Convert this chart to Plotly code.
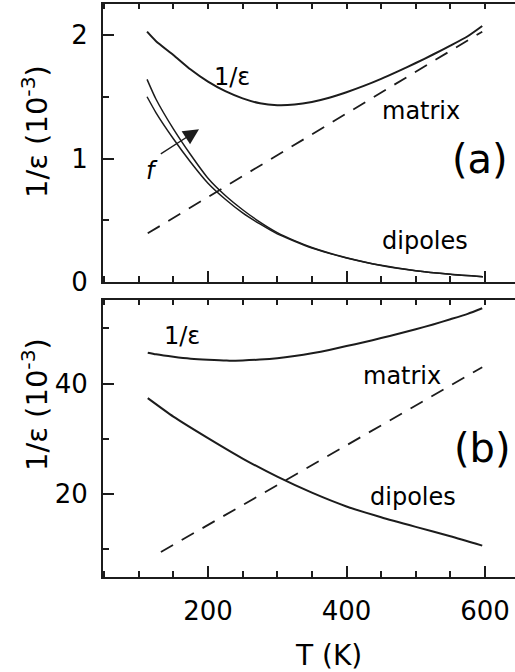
import plotly.graph_objects as go

# ---------------- data ----------------
# panel (a)
T_eps_a = [112, 125, 150, 175, 200, 225, 250, 275, 300, 325, 350, 375, 400, 425, 450, 475, 500, 525, 550, 575, 596]
inv_eps_a = [2.027, 1.95, 1.838, 1.72, 1.622, 1.545, 1.487, 1.447, 1.432, 1.437, 1.458, 1.492, 1.537, 1.588, 1.645, 1.708, 1.773, 1.842, 1.914, 1.99, 2.073]
T_matrix_a = [113, 596]
matrix_a = [0.394, 2.027]
T_dip_a = [112, 125, 150, 175, 200, 225, 250, 275, 300, 325, 350, 375, 400, 450, 500, 550, 597]
dip_a_high = [1.641, 1.48, 1.24, 1.03, 0.84, 0.70, 0.585, 0.485, 0.40, 0.335, 0.28, 0.235, 0.197, 0.135, 0.092, 0.063, 0.043]
dip_a_low = [1.50, 1.37, 1.16, 0.97, 0.80, 0.67, 0.56, 0.47, 0.39, 0.33, 0.275, 0.232, 0.195, 0.134, 0.091, 0.062, 0.042]

# panel (b)
T_eps_b = [113, 125, 150, 175, 200, 227, 250, 275, 300, 325, 350, 375, 400, 425, 450, 475, 500, 525, 550, 575, 596]
inv_eps_b = [45.6, 45.3, 44.85, 44.5, 44.3, 44.16, 44.2, 44.35, 44.6, 45.0, 45.5, 46.1, 46.8, 47.5, 48.25, 49.03, 49.85, 50.73, 51.67, 52.65, 53.66]
T_matrix_b = [132, 596]
matrix_b = [9.43, 42.96]
T_dip_b = [113, 150, 200, 250, 300, 350, 400, 450, 500, 550, 596]
dip_b = [37.35, 34.0, 30.1, 26.4, 23.1, 20.2, 17.7, 15.75, 14.0, 12.3, 10.6]

x_ticks = [200, 400, 600]
y_ticks_a = [0, 1, 2]
y_ticks_b = [20, 40]

# ---------------- figure ----------------
INK = "#1c1c1c"
FONT = "DejaVu Sans"
W, H = 515, 672
ML, MB = 103, 95
PH = H - MB  # plot area height (margin top = 0)

fig = go.Figure()

def line(x, y, xa, ya, width=2.0, dash=None):
    fig.add_trace(go.Scatter(x=x, y=y, xaxis=xa, yaxis=ya, mode="lines",
                             line=dict(color=INK, width=width, dash=dash, shape="spline", smoothing=0.6),
                             showlegend=False, hoverinfo="skip"))

line(T_eps_a, inv_eps_a, "x", "y", 2.0)
line(T_matrix_a, matrix_a, "x", "y", 1.8, "14px,10px")
line(T_dip_a, dip_a_high, "x", "y", 1.5)
line(T_dip_a, dip_a_low, "x", "y", 1.5)

line(T_eps_b, inv_eps_b, "x2", "y2", 2.0)
line(T_matrix_b, matrix_b, "x2", "y2", 1.8, "14px,10px")
line(T_dip_b, dip_b, "x2", "y2", 2.0)

# empty traces so the top-border tick axes get drawn
fig.add_trace(go.Scatter(x=[], y=[], xaxis="x3", yaxis="y", showlegend=False))
fig.add_trace(go.Scatter(x=[], y=[], xaxis="x4", yaxis="y2", showlegend=False))

xr = [48.4, 643.3]
dom_a = [(PH - 282) / PH, (PH - 3.5) / PH]
dom_b = [0, (PH - 300) / PH]

tickfont = dict(family=FONT, size=26, color="black")

def xaxis_common(anchor, labels):
    return dict(domain=[0, 1], range=xr, anchor=anchor, showline=True, linewidth=2,
                linecolor=INK, ticks="inside", ticklen=11, tickwidth=1.6, tickcolor=INK,
                tickvals=x_ticks, showticklabels=labels, tickfont=tickfont,
                ticklabelstandoff=10,
                minor=dict(dtick=50, tick0=0, ticks="inside", ticklen=6, tickwidth=1.6, tickcolor=INK),
                showgrid=False, zeroline=False)

def xtop(overlay, anchor):
    return dict(overlaying=overlay, side="top", anchor=anchor, range=xr, showline=True,
                linewidth=2, linecolor=INK, ticks="inside", ticklen=5, tickwidth=1.6,
                tickcolor=INK, dtick=50, tick0=0, showticklabels=False,
                showgrid=False, zeroline=False)

def yaxis_common(dom, rng, anchor, tv, dmin):
    return dict(domain=dom, range=rng, anchor=anchor, showline=True, linewidth=2,
                linecolor=INK, ticks="inside", ticklen=11, tickwidth=1.6, tickcolor=INK,
                tickvals=tv, tickfont=tickfont, ticklabelstandoff=8,
                minor=dict(dtick=dmin, tick0=0, ticks="inside", ticklen=6, tickwidth=1.6, tickcolor=INK),
                showgrid=False, zeroline=False)

fig.update_layout(
    width=W, height=H,
    margin=dict(l=ML, r=0, t=0, b=MB),
    paper_bgcolor="white", plot_bgcolor="white",
    xaxis=xaxis_common("y", False),
    yaxis=yaxis_common(dom_a, [0, 2.255], "x", y_ticks_a, 0.5),
    xaxis2=xaxis_common("y2", True),
    yaxis2=yaxis_common(dom_b, [4.9, 55.16], "x2", y_ticks_b, 10),
    xaxis3=xtop("x", "y"),
    xaxis4=xtop("x2", "y2"),
)

lab = dict(family=FONT, size=24, color="black")
big = dict(family=FONT, size=40, color="black")

def note(text, x, y, xref, yref, font, **kw):
    fig.add_annotation(text=text, x=x, y=y, xref=xref, yref=yref, showarrow=False,
                       xanchor="center", yanchor="middle", font=font, **kw)

# panel (a) labels
note("1/ε", 234, 1.66, "x", "y", lab)
note("matrix", 507, 1.385, "x", "y", lab)
note("(a)", 593, 0.996, "x", "y", big)
note("dipoles", 514, 0.332, "x", "y", lab)
note("<i>f</i>", 119, 0.90, "x", "y", lab)
fig.add_annotation(x=187, y=1.236, ax=129.7, ay=1.03, xref="x", yref="y", axref="x", ayref="y",
                   text="", showarrow=True, arrowhead=2, arrowsize=2.4, arrowwidth=1.3,
                   arrowcolor=INK)

# panel (b) labels
note("1/ε", 162, 48.7, "x2", "y2", lab)
note("matrix", 480, 41.4, "x2", "y2", lab)
note("(b)", 597, 28.3, "x2", "y2", big)
note("dipoles", 496, 19.5, "x2", "y2", lab)

# axis titles
title_font = dict(family=FONT, size=29, color="black")
px2x = lambda px: (px - ML) / (W - ML)
py2y = lambda py: (PH - py) / PH
note("1/ε (10<sup>-3</sup>)", px2x(35), py2y(132), "paper", "paper", title_font, textangle=-90)
note("1/ε (10<sup>-3</sup>)", px2x(35), py2y(405), "paper", "paper", title_font, textangle=-90)
note("T (K)", px2x(328), py2y(655), "paper", "paper", dict(family=FONT, size=28, color="black"))

fig.write_html("out.html", config={"displayModeBar": False},
               post_script="document.body.style.margin='0';document.body.style.overflow='hidden';")
